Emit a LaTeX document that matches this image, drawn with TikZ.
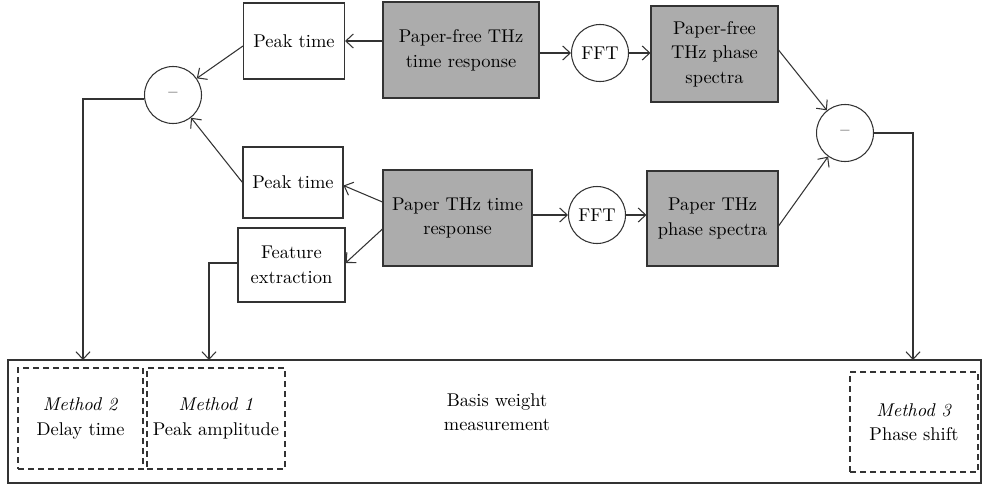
\documentclass[tikz,border=0pt]{standalone}
\usepackage{tikz}
\usetikzlibrary{arrows.meta,positioning,shapes.geometric}

\begin{document}
\begin{tikzpicture}[
    font=\fontsize{10.5}{14}\selectfont,
    line width=0.6pt,
    >={Straight Barb[length=1.5mm,width=2.8mm]},
    wbox/.style={draw=black!80, fill=white, align=center, inner sep=1pt},
    gbox/.style={draw=black!80, fill=gray!65, align=center, inner sep=1pt},
    opnode/.style={draw=black!80, circle, minimum size=1.14cm, inner sep=0pt},
    mbox/.style={draw=black!80, dashed, dash pattern=on 1.2mm off 0.8mm, align=center, minimum height=2.02cm},
    conn/.style={->, draw=black!80}]
    \useasboundingbox (0,0) rectangle (19.64,-9.7);

    % top row
    \node[wbox, minimum width=2.02cm, minimum height=1.52cm] (peakA) at (5.88,-0.82) {Peak time};
    \node[opnode] (subL) at (3.46,-1.9) {--};
    \node[gbox, minimum width=3.12cm, minimum height=1.92cm] (respFree) at (9.22,-1.0) {Paper-free THz\\time response};
    \node[opnode] (fftA) at (12.0,-1.06) {FFT};
    \node[gbox, minimum width=2.54cm, minimum height=1.92cm] (specFree) at (14.29,-1.08) {Paper-free\\THz phase\\spectra};
    \node[opnode] (subR) at (16.9,-2.66) {--};

    % bottom row
    \node[wbox, minimum width=2.0cm, minimum height=1.42cm] (peakB) at (5.86,-3.65) {Peak time};
    \node[wbox, minimum width=2.14cm, minimum height=1.48cm] (feat) at (5.83,-5.3) {Feature\\extraction};
    \node[gbox, minimum width=2.98cm, minimum height=1.92cm] (respPaper) at (9.15,-4.36) {Paper THz time\\response};
    \node[opnode] (fftB) at (11.94,-4.3) {FFT};
    \node[gbox, minimum width=2.62cm, minimum height=1.9cm] (specPaper) at (14.25,-4.37) {Paper THz\\phase spectra};

    % measurement block
    \node[draw=black!80, minimum width=19.46cm, minimum height=2.46cm] (basis) at (9.89,-8.43) {};
    \node[align=center] (basisTxt) at (9.94,-8.24) {Basis weight\\measurement};
    \node[mbox, minimum width=2.5cm] (mTwo) at (1.61,-8.37) {\textit{Method 2}\\Delay time};
    \node[mbox, minimum width=2.76cm, inner sep=0pt] (mOne) at (4.32,-8.37) {\textit{Method 1}\\Peak amplitude};
    \node[mbox, minimum width=2.56cm, minimum height=2.0cm] (mThree) at (18.28,-8.44) {\textit{Method 3}\\Phase shift};

    \coordinate (inTwo) at (1.66,-7.2);
    \coordinate (inOne) at (4.18,-7.2);
    \coordinate (inThree) at (18.26,-7.2);

    \draw[conn] (respFree.west |- peakA.east) -- (peakA.east);
    \draw[conn] (respFree.east |- fftA) -- (fftA.west);
    \draw[conn] (fftA.east) -- (fftA.east -| specFree.west);
    \draw[conn] (respPaper.east |- fftB) -- (fftB.west);
    \draw[conn] (fftB.east) -- (fftB.east -| specPaper.west);
    \draw[conn] ([yshift=0.32cm]respPaper.west) -- ([yshift=-0.06cm]peakB.east);
    \draw[conn] ([yshift=-0.22cm]respPaper.west) -- ([yshift=0.04cm]feat.east);
    \draw[conn] ([yshift=-0.1cm]peakA.west) -- (subL);
    \draw[conn] (peakB.west) -- (subL);
    \draw[conn] ([yshift=0.08cm]specFree.east) -- (subR);
    \draw[conn] ([yshift=-0.15cm]specPaper.east) -- (subR);
    \draw[conn] ([yshift=-0.08cm]subL.west) -| (inTwo);
    \draw[conn] ([yshift=0.04cm]feat.west) -| (inOne);
    \draw[conn] (subR.east) -| (inThree);
\end{tikzpicture}
\end{document}
